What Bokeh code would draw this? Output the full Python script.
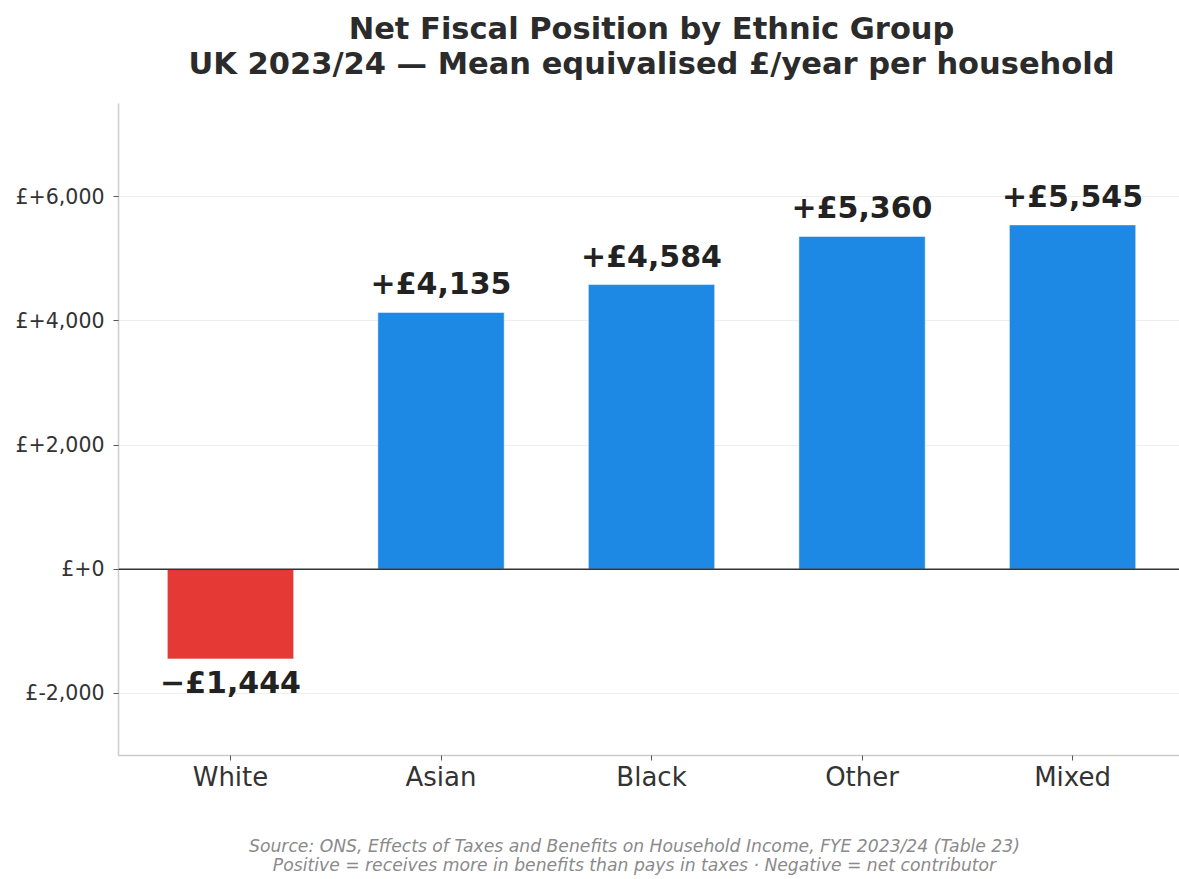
from bokeh.plotting import figure
from bokeh.layouts import column
from bokeh.models import ColumnDataSource, Range1d, FixedTicker, Span
from bokeh.core.properties import value
from bokeh.embed import file_html
from bokeh.resources import INLINE

categories = ["White", "Asian", "Black", "Other", "Mixed"]
values = [-1444, 4135, 4584, 5360, 5545]
y_ticks = [-2000, 0, 2000, 4000, 6000]
y_tick_labels = ["£-2,000", "£+0", "£+2,000", "£+4,000", "£+6,000"]
title_lines = ["Net Fiscal Position by Ethnic Group",
               "UK 2023/24 — Mean equivalised £/year per household"]
notes = ["Source: ONS, Effects of Taxes and Benefits on Household Income, FYE 2023/24 (Table 23)",
         "Positive = receives more in benefits than pays in taxes · Negative = net contributor"]

RED = "#E53935"
BLUE = "#1E88E5"
FONT = "DejaVu Sans"
W = 1179

x_range = Range1d(-0.532, 4.508)


def fmt(v):
    s = "{:,}".format(abs(v))
    return ("+£" if v >= 0 else "−£") + s


def text_strip(height, lines, ys, x, size, style, color):
    f = figure(width=W, height=height, output_backend="svg", toolbar_location=None,
               x_range=x_range, y_range=Range1d(height, 0),
               x_axis_location=None, y_axis_location=None,
               min_border_left=118, min_border_right=0,
               min_border_top=0, min_border_bottom=0)
    f.outline_line_color = None
    f.xgrid.visible = False
    f.ygrid.visible = False
    f.text(x=[x] * len(lines), y=ys, text=lines, text_align="center",
           text_baseline="middle", text_font=value(FONT), text_font_size=size,
           text_font_style=style, text_color=color)
    return f


xs = list(range(len(categories)))
colors = [BLUE if v >= 0 else RED for v in values]
labels = [fmt(v) for v in values]
pos = [v >= 0 for v in values]

src_pos = ColumnDataSource(dict(x=[x for x, p in zip(xs, pos) if p],
                                y=[v for v, p in zip(values, pos) if p],
                                t=[l for l, p in zip(labels, pos) if p]))
src_neg = ColumnDataSource(dict(x=[x for x, p in zip(xs, pos) if not p],
                                y=[v for v, p in zip(values, pos) if not p],
                                t=[l for l, p in zip(labels, pos) if not p]))
src = ColumnDataSource(dict(x=xs, top=values, color=colors))

p = figure(width=W, height=705, output_backend="svg", toolbar_location=None,
           x_range=x_range,
           y_range=Range1d(-3000, 7500),
           min_border_left=118, min_border_right=0, min_border_top=8,
           min_border_bottom=45)

p.vbar(x="x", top="top", bottom=0, width=0.6, color="color", source=src,
       line_color="white", line_width=0.5)

p.text(x="x", y="y", text="t", source=src_pos, text_align="center",
       text_baseline="bottom", y_offset=-11, text_font=value(FONT),
       text_font_style="bold", text_font_size="30px", text_color="#222222")
p.text(x="x", y="y", text="t", source=src_neg, text_align="center",
       text_baseline="top", y_offset=6, text_font=value(FONT),
       text_font_style="bold", text_font_size="30px", text_color="#222222")

p.add_layout(Span(location=0, dimension="width", line_color="#333333", line_width=1.5))

p.outline_line_color = None
p.xgrid.grid_line_color = None
p.ygrid.grid_line_color = "#eeeeee"
p.ygrid.ticker = FixedTicker(ticks=y_ticks)

p.yaxis.ticker = FixedTicker(ticks=y_ticks)
p.yaxis.major_label_overrides = {float(t): l for t, l in zip(y_ticks, y_tick_labels)}
p.xaxis.ticker = FixedTicker(ticks=xs)
p.xaxis.major_label_overrides = {float(x): c for x, c in zip(xs, categories)}
for ax in (p.xaxis, p.yaxis):
    ax.minor_tick_line_color = None
    ax.axis_line_color = "#cccccc"
    ax.axis_line_width = 1.5
    ax.major_tick_line_color = "#555555"
    ax.major_tick_in = 0
    ax.major_tick_out = 5
    ax.major_label_text_font = FONT
    ax.major_label_text_color = "#333333"
p.yaxis.major_label_text_font_size = "20.5px"
p.xaxis.major_label_text_font_size = "26px"
p.xaxis.major_label_standoff = 1
p.yaxis.major_label_standoff = 9

head = text_strip(95, title_lines, [28, 63], 2.0, "30.5px", "bold", "#2b2b2b")
foot = text_strip(79, notes, [45, 64], 1.919, "17.2px", "italic", "#8a8a8a")

layout = column(head, p, foot, spacing=0)
open("out.html", "w").write(file_html(layout, INLINE))
